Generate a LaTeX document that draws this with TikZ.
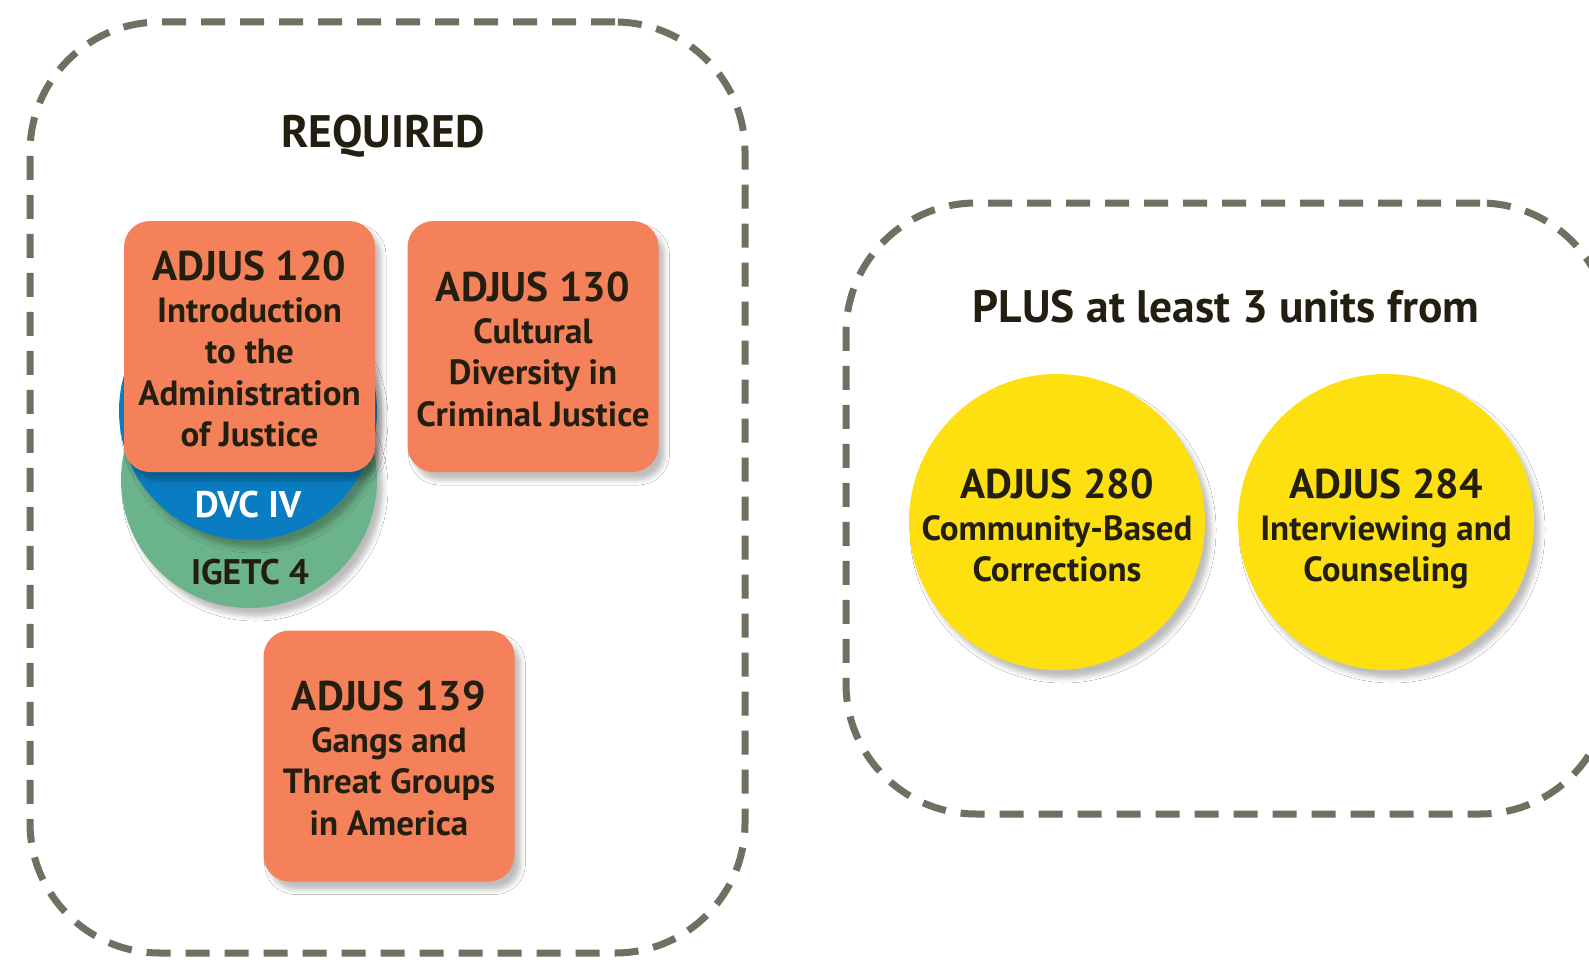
\documentclass[tikz,border=0pt]{standalone}
\usepackage{fontspec}
\setmainfont{PT Sans}
\usetikzlibrary{shadows.blur}
\definecolor{orng}{HTML}{F4815A}
\definecolor{bluec}{HTML}{0A7DC2}
\definecolor{greenc}{HTML}{6BB38A}
\definecolor{yell}{HTML}{FEE011}
\definecolor{dashc}{HTML}{706F60}
\definecolor{txt}{HTML}{231F10}
\newcommand{\ctitle}[1]{{\fontsize{41.5}{41.5}\selectfont #1}}
\begin{document}
\begin{tikzpicture}[x=1pt,y=-1pt,
  frame/.style={draw=dashc, line width=7pt, dash pattern=on 24pt off 15pt, rounded corners=130pt, inner sep=0pt},
  shad/.style={blur shadow={shadow xshift=6pt, shadow yshift=-8pt, shadow blur radius=5pt, shadow opacity=26}},
  course/.style={shad, fill=orng, rounded corners=26pt, minimum width=251pt, minimum height=251pt, inner sep=0pt},
  disc/.style={shad, circle, inner sep=0pt},
  elect/.style={disc, fill=yell, minimum size=296pt},
  ctext/.style={anchor=north, inner sep=0pt, align=center, text=txt, font=\bfseries\fontsize{35}{41.5}\selectfont},
  head/.style={text=txt, anchor=base, font=\bfseries\fontsize{45.5}{45.5}\selectfont, inner sep=0pt},
  lab/.style={anchor=base, inner sep=0pt}
]
\useasboundingbox (0,0) rectangle (1589,960);
\fill[white] (0,0) rectangle (1589,960);

\node[frame, minimum width=715pt, minimum height=931pt] (req) at (387.5,487.5) {};
\node[frame, minimum width=764pt, minimum height=611pt] (plus) at (1228,508.5) {};

\node[head] (reqt) at (383,148) {REQUIRED};
\node[head] (plust) at (1226,322) {PLUS at least 3 units from};

\node[disc, fill=greenc, minimum size=256pt] (igetc) at (249,480) {};
\node[disc, fill=bluec, minimum size=258pt] (dvc) at (248,411) {};
\node[lab, text=white, font=\bfseries\fontsize{37}{37}\selectfont] (dvct) at (248,517) {DVC IV};
\node[lab, text=txt, font=\bfseries\fontsize{35.5}{35.5}\selectfont] (igetct) at (250,584) {IGETC 4};

\node[course] (a120) at (249.5,346.5) {};
\node[course] (a130) at (533,346.5) {};
\node[course] (a139) at (389,756) {};
\node[ctext] (t120) at (249.5,251) {\ctitle{ADJUS 120}\\Introduction\\to the\\Administration\\of Justice};
\node[ctext] (t130) at (533,272) {\ctitle{ADJUS 130}\\Cultural\\Diversity in\\Criminal Justice};
\node[ctext] (t139) at (389,681) {\ctitle{ADJUS 139}\\Gangs and\\Threat Groups\\in America};

\node[elect] (a280) at (1057,522) {};
\node[elect] (a284) at (1386,522) {};
\node[ctext] (t280) at (1057,469) {\ctitle{ADJUS 280}\\Community-Based\\Corrections};
\node[ctext] (t284) at (1386,469) {\ctitle{ADJUS 284}\\Interviewing and\\Counseling};
\end{tikzpicture}
\end{document}
